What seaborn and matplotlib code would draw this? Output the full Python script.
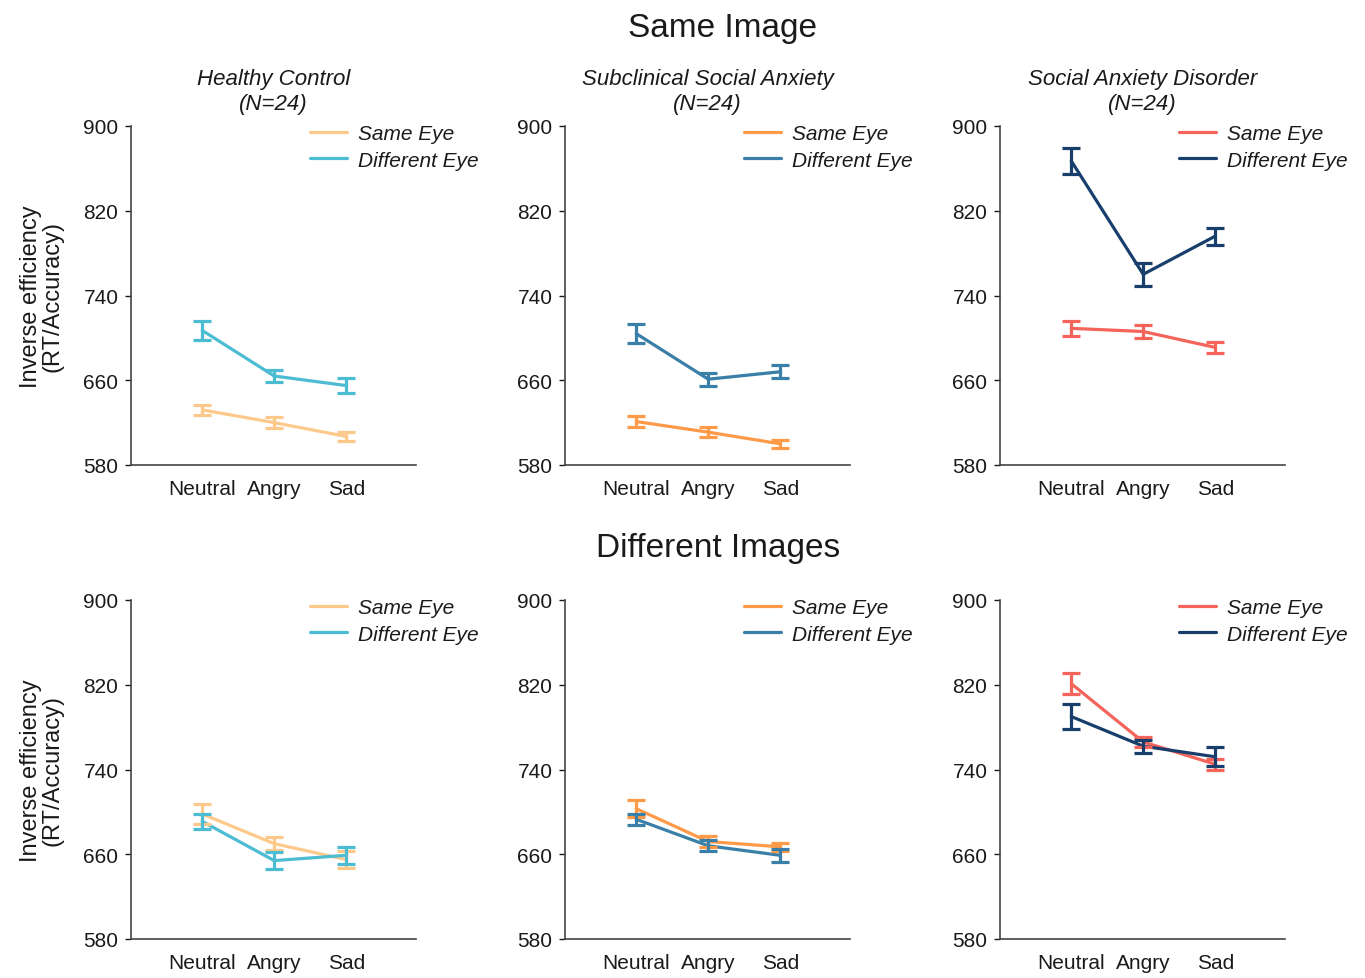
import matplotlib
matplotlib.use("Agg")
import matplotlib.pyplot as plt
import seaborn as sns
import pandas as pd
import numpy as np

emotions = ["Neutral", "Angry", "Sad"]
conditions = ["Same Eye", "Different Eye"]
groups = ["Healthy Control\n(N=24)", "Subclinical Social Anxiety\n(N=24)", "Social Anxiety Disorder\n(N=24)"]
row_titles = ["Same Image", "Different Images"]

# Same Image row
same_img_same_eye = [[632, 620, 607], [621, 611, 600], [709, 706, 691]]
same_img_same_eye_err = [[5, 5, 4], [5, 5, 4], [7, 6, 5]]
same_img_diff_eye = [[707, 664, 655], [704, 661, 668], [867, 760, 796]]
same_img_diff_eye_err = [[9, 6, 7], [9, 6, 6], [12, 11, 8]]
# Different Images row
diff_img_same_eye = [[698, 670, 655], [703, 672, 667], [821, 766, 745]]
diff_img_same_eye_err = [[9, 6, 8], [8, 5, 4], [10, 5, 5]]
diff_img_diff_eye = [[691, 654, 659], [693, 668, 659], [790, 762, 752]]
diff_img_diff_eye_err = [[7, 8, 8], [5, 5, 6], [12, 6, 9]]

palettes = [("#FDC98B", "#4BBCD1"), ("#FF9A48", "#3A7FA8"), ("#F4645A", "#183F6C")]

sns.set_theme(style="ticks")
plt.rcParams["font.family"] = ["Liberation Sans", "DejaVu Sans"]
plt.rcParams["text.color"] = "#1a1a1a"
plt.rcParams["axes.labelcolor"] = "#1a1a1a"
plt.rcParams["xtick.color"] = "#1a1a1a"
plt.rcParams["ytick.color"] = "#1a1a1a"

fig = plt.figure(figsize=(13.65, 9.79), dpi=100)
lefts = [131/1365, 565/1365, 1000/1365]
bottoms = [1 - 466/979, 1 - 940/979]
w = 285/1365
h = 339/979

rows = [
    (same_img_same_eye, same_img_same_eye_err, same_img_diff_eye, same_img_diff_eye_err),
    (diff_img_same_eye, diff_img_same_eye_err, diff_img_diff_eye, diff_img_diff_eye_err),
]

for r, (se, see, de, dee) in enumerate(rows):
    for g in range(3):
        ax = fig.add_axes([lefts[g], bottoms[r], w, h])
        df = pd.DataFrame({
            "Emotion": emotions * 2,
            "Condition": [conditions[0]] * 3 + [conditions[1]] * 3,
            "Value": se[g] + de[g],
        })
        pal = {conditions[0]: palettes[g][0], conditions[1]: palettes[g][1]}
        sns.lineplot(data=df, x="Emotion", y="Value", hue="Condition", palette=pal,
                     ax=ax, linewidth=2.3, sort=False)
        xs = np.arange(len(emotions))
        ax.errorbar(xs, se[g], yerr=see[g], fmt="none", ecolor=pal[conditions[0]],
                    elinewidth=2.3, capsize=6.5, capthick=2.3)
        ax.errorbar(xs, de[g], yerr=dee[g], fmt="none", ecolor=pal[conditions[1]],
                    elinewidth=2.3, capsize=6.5, capthick=2.3)
        ax.set_xlim(-0.99, 2.97)
        ax.set_ylim(580, 900)
        ax.set_yticks([580, 660, 740, 820, 900])
        ax.set_xticks(xs)
        ax.set_xticklabels(emotions)
        ax.tick_params(axis="x", length=0, labelsize=15, pad=10)
        ax.tick_params(axis="y", length=4, labelsize=15, width=1, pad=5)
        for s in ["top", "right"]:
            ax.spines[s].set_visible(False)
        for s in ["left", "bottom"]:
            ax.spines[s].set_color("#444444")
            ax.spines[s].set_linewidth(1.2)
        ax.set_xlabel("")
        if g == 0:
            ax.set_ylabel("Inverse efficiency\n(RT/Accuracy)", fontsize=17, labelpad=14,
                          linespacing=1.0)
        else:
            ax.set_ylabel("")
        if r == 0:
            ax.set_title(groups[g], fontsize=16, style="italic", pad=12, linespacing=1.3)
        ax.legend(loc="upper right", bbox_to_anchor=(1.285, 1.06), frameon=False,
                  prop={"style": "italic", "size": 15}, handlelength=1.8,
                  handletextpad=0.5, labelspacing=0.35)
        ax.get_legend().set_title(None)

fig.text(0.529, 1 - 28/979, row_titles[0], ha="center", va="center", fontsize=24)
fig.text(0.526, 1 - 549/979, row_titles[1], ha="center", va="center", fontsize=24)

fig.savefig("out.png", dpi=100)
